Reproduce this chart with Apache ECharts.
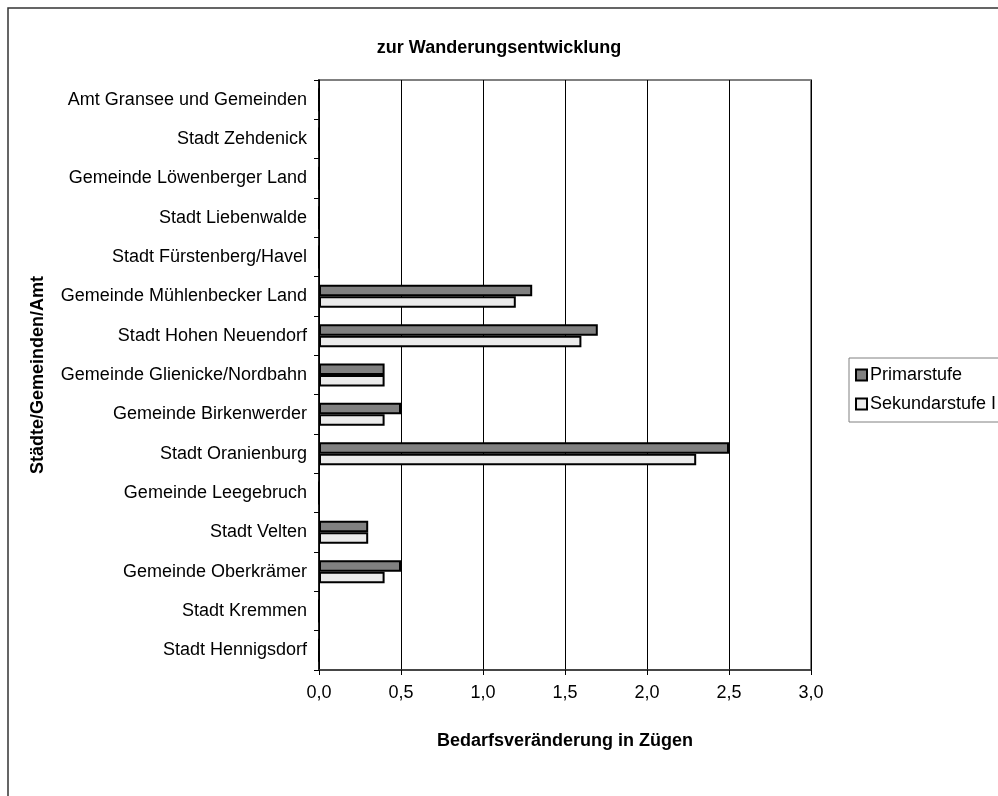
<!DOCTYPE html>
<html>
<head>
<meta charset="utf-8">
<style>
  * { margin: 0; padding: 0; }
  #container { width: 998px; height: 796px; background: #fff; }
</style>
</head>
<body>
<div id="container"></div>
<script src="https://cdn.jsdelivr.net/npm/echarts@6.0.0/dist/echarts.min.js"></script>
<script>
  var categories = [
    'Amt Gransee und Gemeinden', 'Stadt Zehdenick', 'Gemeinde Löwenberger Land',
    'Stadt Liebenwalde', 'Stadt Fürstenberg/Havel', 'Gemeinde Mühlenbecker Land',
    'Stadt Hohen Neuendorf', 'Gemeinde Glienicke/Nordbahn', 'Gemeinde Birkenwerder',
    'Stadt Oranienburg', 'Gemeinde Leegebruch', 'Stadt Velten',
    'Gemeinde Oberkrämer', 'Stadt Kremmen', 'Stadt Hennigsdorf'
  ];
  var primarstufe = [0, 0, 0, 0, 0, 1.3, 1.7, 0.4, 0.5, 2.5, 0, 0.3, 0.5, 0, 0];
  var sekundarstufe = [0, 0, 0, 0, 0, 1.2, 1.6, 0.4, 0.4, 2.3, 0, 0.3, 0.4, 0, 0];

  var font = 'Liberation Sans, Arial, sans-serif';
  var chart = echarts.init(document.getElementById('container'));

  var option = {
    animation: false,
    title: {
      text: 'zur Wanderungsentwicklung',
      left: 'center',
      top: 34,
      textStyle: { fontFamily: font, fontSize: 18, fontWeight: 'bold', color: '#000' }
    },
    legend: {
      orient: 'vertical',
      left: 849,
      top: 358,
      itemWidth: 11,
      itemHeight: 11,
      itemGap: 11,
      padding: [8, 16, 9, 6],
      borderColor: '#808080',
      borderWidth: 1,
      icon: 'rect',
      textStyle: { fontFamily: font, fontSize: 18, color: '#000', padding: [0, 0, 0, -2] },
      data: ['Primarstufe', 'Sekundarstufe I']
    },
    grid: {
      left: 319, top: 80, right: 187, bottom: 126,
      show: true, borderColor: '#808080', borderWidth: 2, backgroundColor: '#fff'
    },
    xAxis: {
      type: 'value',
      min: 0, max: 3, interval: 0.5,
      name: 'Bedarfsveränderung in Zügen',
      nameLocation: 'middle',
      nameGap: 62,
      nameTextStyle: { fontFamily: font, fontSize: 18, fontWeight: 'bold', color: '#000' },
      axisLine: { show: true, lineStyle: { color: '#333', width: 1.5 } },
      axisTick: { show: true, length: 5, lineStyle: { color: '#000' } },
      axisLabel: {
        margin: 14, fontFamily: font, fontSize: 18, color: '#000',
        formatter: function (v) { return v.toFixed(1).replace('.', ','); }
      },
      splitLine: { show: true, lineStyle: { color: '#000', width: 1 } }
    },
    yAxis: {
      type: 'category',
      inverse: true,
      data: categories,
      name: 'Städte/Gemeinden/Amt',
      nameLocation: 'middle',
      nameGap: 272,
      nameTextStyle: { fontFamily: font, fontSize: 18, fontWeight: 'bold', color: '#000' },
      axisLine: { show: true, lineStyle: { color: '#000', width: 1.5 } },
      axisTick: { show: true, length: 5, lineStyle: { color: '#000' } },
      axisLabel: { margin: 12, fontFamily: font, fontSize: 18, color: '#000' }
    },
    series: [
      {
        name: 'Primarstufe', type: 'bar', data: primarstufe,
        barWidth: 11.5, barGap: '0%',
        itemStyle: { color: '#808080', borderColor: '#000', borderWidth: 2 }
      },
      {
        name: 'Sekundarstufe I', type: 'bar', data: sekundarstufe,
        barWidth: 11.5, barGap: '0%',
        itemStyle: { color: '#ebebeb', borderColor: '#000', borderWidth: 2 }
      }
    ],
    graphic: [{
      type: 'rect', silent: true, z: 100,
      shape: { x: 8, y: 8, width: 1200, height: 1200 },
      style: { fill: 'none', stroke: '#333', lineWidth: 1.5 }
    }]
  };

  chart.setOption(option);
</script>
</body>
</html>
